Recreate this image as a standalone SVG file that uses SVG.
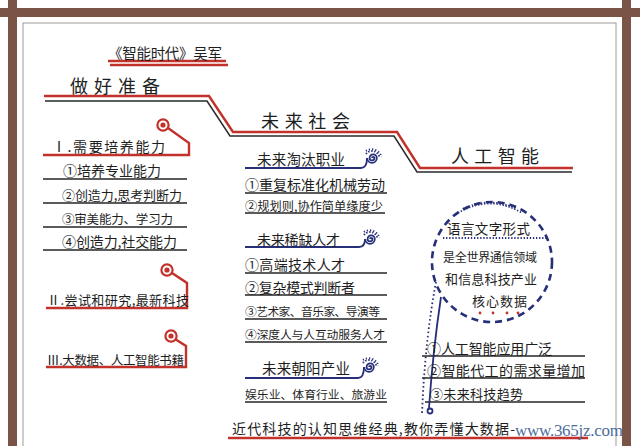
<svg xmlns="http://www.w3.org/2000/svg" width="640" height="446" viewBox="0 0 640 446">
<style>
.t{font-family:"Noto Sans CJK SC","Noto Sans CJK TC",sans-serif;fill:#1e1e1e}
.h{font-size:18px}
.m{font-size:14px}
.s{font-size:13px}
.red{stroke:#c2312a;fill:none;stroke-width:2.4}
.dk{stroke:#2a2a2a;fill:none;stroke-width:1.5}
.ul{stroke:#262626;fill:none;stroke-width:1.4}
.nv{stroke:#262f78;fill:none;stroke-width:1.8}
.frame{fill:#7a5446}
</style>
<defs>
<g id="spiral">
<path d="M0,0 A1.2,1.2 0 0,1 2.4,0 A2.4,2.4 0 0,1 -2.4,0 A3.6,3.6 0 0,1 4.8,0 A4.8,4.8 0 0,1 -4.8,0" class="nv" stroke-width="1.5"/>
<path d="M-6,-4 A7.5,7.5 0 0,1 7.5,0" class="nv" stroke-width="1.4" stroke-dasharray="1.4 1.6"/>
<path d="M-6,-7 A10,10 0 0,1 9.5,-1" class="nv" stroke-width="1.2" stroke-dasharray="1.2 2"/>
</g>
<g id="pin">
<circle r="5.6" fill="#fff" stroke="#c2312a" stroke-width="2.2"/>
<circle r="2.6" fill="#c2312a"/>
</g>
</defs>
<rect width="640" height="446" fill="#fff"/>
<g id="frame">
<rect x="23" y="23" width="593" height="440" fill="none" stroke="#a09a98" stroke-width="1"/>
<rect class="frame" x="0" y="8" width="640" height="9"/>
<rect class="frame" x="8" y="0" width="9" height="446"/>
<rect class="frame" x="622" y="0" width="9" height="446"/>
</g>
<g id="connectors">
<path class="red" d="M108,61 L226,61 M110,65 L228,65"/>
<path class="red" d="M44,96 L209,96 L233,132 L397,132 L420,168 L573,168"/>
<path class="dk" d="M45,101 L207,101 L230,136 L394,136 L417,172 L572,172"/>
<path class="red" stroke-width="2" d="M168,128 L189,143 L189,155 L43,155"/>
<path class="red" stroke-width="2" d="M172,273 L187,283 L187,308 L46,308"/>
<path class="red" stroke-width="2" d="M175,339 L186,346 L186,367 L46,367"/>
<path class="ul" d="M43,179 H187 M43,203 H187 M43,227 H187 M43,250 H187"/>
<path class="ul" d="M245,193 H387 M245,213 H385 M245,273 H387 M245,295 H387 M245,319 H387 M245,342 H387 M245,402 H387"/>
<path class="ul" d="M422,356 H585 M422,378 H585 M425,402 H585"/>
<path class="nv" d="M245,168 L361,168 Q367,168 367,158"/>
<path class="nv" d="M245,247 L359,247 Q365,247 365,239"/>
<path class="nv" d="M245,378 L358,378 Q364,378 364,367"/>
<path class="red" stroke-width="1.8" d="M228,438 L588,438"/>
<path class="nv" stroke-width="1.6" d="M441,297 Q433,350 429,408"/>
<circle cx="430" cy="411" r="2.5" class="nv" stroke-width="1.4"/>
<path class="nv" stroke-width="2" stroke-dasharray="1.6 2.6" d="M436,282 Q425,340 422,414"/>
</g>
<g id="n-title"><text class="t" x="108" y="59" font-size="14.5" textLength="114">《智能时代》吴军</text></g>
<g id="n-prepare"><text class="t h" x="70" y="93" textLength="90">做好准备</text></g>
<g id="n-future"><text class="t h" x="261" y="128" textLength="89">未来社会</text></g>
<g id="n-ai"><text class="t h" x="451" y="163" textLength="88">人工智能</text></g>
<g id="n-left1">
<use href="#pin" x="163" y="125"/>
<text class="t m" x="52" y="152" textLength="113">Ⅰ.需要培养能力</text>
<text class="t m" x="63" y="176" textLength="98">①培养专业能力</text>
<text class="t" x="62" y="200" font-size="13" textLength="120">②创造力,思考判断力</text>
<text class="t" x="62" y="224" font-size="12.5" textLength="111">③审美能力、学习力</text>
<text class="t m" x="62" y="247" textLength="115">④创造力,社交能力</text>
</g>
<g id="n-left2">
<use href="#pin" x="167" y="270"/>
<text class="t s" x="47" y="305" textLength="142">Ⅱ.尝试和研究,最新科技</text>
</g>
<g id="n-left3">
<use href="#pin" x="171" y="336"/>
<text class="t" x="47" y="365" font-size="12.5" textLength="137">Ⅲ.大数据、人工智能书籍</text>
</g>
<g id="n-mid1">
<use href="#spiral" x="372" y="158"/>
<text class="t" x="257" y="165" font-size="14.5" textLength="88">未来淘汰职业</text>
<text class="t m" x="245" y="190" textLength="140">①重复标准化机械劳动</text>
<text class="t" x="245" y="211" font-size="12.2" textLength="138">②规划则,协作简单缘度少</text>
</g>
<g id="n-mid2">
<use href="#spiral" x="370" y="239"/>
<text class="t m" x="257" y="245" textLength="83">未来稀缺人才</text>
<text class="t m" x="245" y="270" textLength="100">①高端技术人才</text>
<text class="t m" x="245" y="293" textLength="110">②复杂模式判断者</text>
<text class="t" x="245" y="316" font-size="11.8" textLength="135">③艺术家、音乐家、导演等</text>
<text class="t" x="245" y="339" font-size="11.8" textLength="140">④深度人与人互动服务人才</text>
</g>
<g id="n-mid3">
<use href="#spiral" x="369" y="367"/>
<text class="t" x="262" y="374" font-size="14.5" textLength="88">未来朝阳产业</text>
<text class="t" x="245" y="399" font-size="11.8" textLength="142">娱乐业、体育行业、旅游业</text>
</g>
<g id="n-circle">
<circle cx="492" cy="262" r="60" fill="none" stroke="#262f78" stroke-width="2.6" stroke-dasharray="7 5"/>
<path class="nv" stroke-width="1.6" stroke-dasharray="1.3 1.8" d="M458,213 Q490,194 522,213 M463,209 Q490,196 517,209"/>
<path class="nv" stroke-width="1.6" stroke-dasharray="1.3 1.8" d="M443,238 H547"/>
<text class="t" x="447" y="234" font-size="13.5" textLength="83">语言文字形式</text>
<text class="t" x="443" y="262" font-size="12" textLength="94">是全世界通信领域</text>
<text class="t s" x="445" y="284" textLength="92">和信息科技产业</text>
<text class="t s" x="472" y="306" textLength="55">核心数据</text>
<g fill="#c2312a"><circle cx="480" cy="313" r="1.4"/><circle cx="493" cy="313" r="1.4"/><circle cx="507" cy="313" r="1.4"/><circle cx="518" cy="313" r="1.4"/></g>
</g>
<g id="n-right">
<text class="t m" x="427" y="354" textLength="125">①人工智能应用广泛</text>
<text class="t m" x="427" y="376" textLength="158">②智能代工的需求量增加</text>
<text class="t s" x="430" y="399" textLength="93">③未来科技趋势</text>
</g>
<g id="n-bottom">
<text class="t m" x="232" y="434" textLength="283">近代科技的认知思维经典,教你弄懂大数据-</text>
<text x="515" y="436" font-family="Liberation Serif,serif" font-size="17" fill="#4e6d9c" textLength="108">www.365jz.com</text>
</g>
</svg>
